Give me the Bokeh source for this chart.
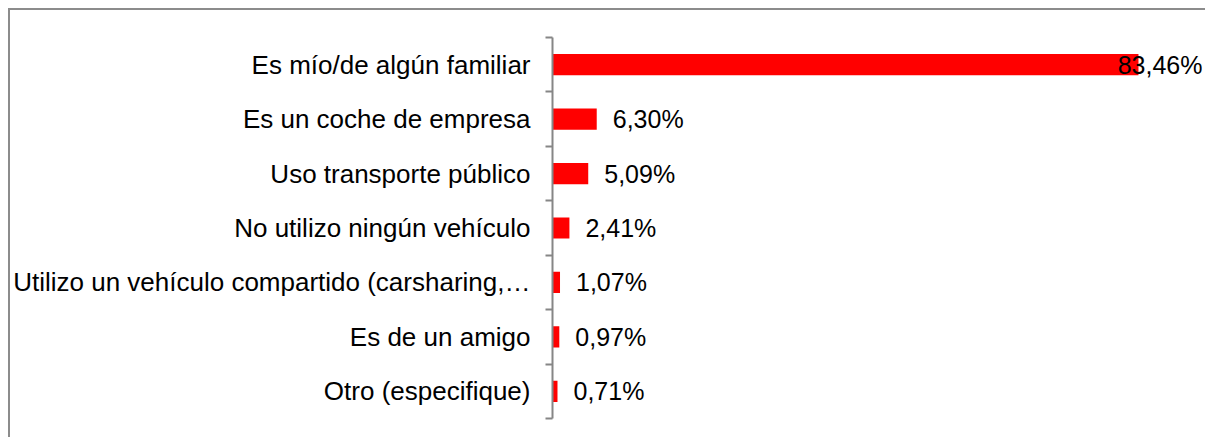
from bokeh.plotting import figure
from bokeh.models import ColumnDataSource, Range1d, FixedTicker
from bokeh.core.properties import value
from bokeh.embed import file_html
from bokeh.resources import INLINE

categories = [
    "Es mío/de algún familiar",
    "Es un coche de empresa",
    "Uso transporte público",
    "No utilizo ningún vehículo",
    "Utilizo un vehículo compartido (carsharing,…",
    "Es de un amigo",
    "Otro (especifique)",
]
values = [83.46, 6.30, 5.09, 2.41, 1.07, 0.97, 0.71]
value_labels = ["83,46%", "6,30%", "5,09%", "2,41%", "1,07%", "0,97%", "0,71%"]

n = len(categories)
XMAX = 92.58
ypos = [n - 1 - i for i in range(n)]
big = [v > 0.8 * XMAX for v in values]
label_x = [XMAX if b else v for v, b in zip(values, big)]
label_align = ["right" if b else "left" for b in big]
label_off = [0 if b else 16 for b in big]

src = ColumnDataSource(dict(y=ypos, v=values, lab=value_labels, lx=label_x,
                            al=label_align, off=label_off))

p = figure(width=1197, height=429, output_backend="svg", toolbar_location=None,
           x_range=Range1d(0, XMAX), y_range=Range1d(-0.5, n - 0.5),
           min_border_top=27, min_border_bottom=21, min_border_right=5,
           min_border_left=542)
p.outline_line_color = None
p.grid.visible = False
p.xaxis.visible = False
p.background_fill_color = "white"
p.border_fill_color = "white"
p.styles = {"margin-left": "8px", "margin-top": "8px",
            "border-left": "2px solid #8c8c8c", "border-top": "2px solid #8c8c8c"}

p.hbar(y="y", right="v", left=0, height=0.39, source=src,
       fill_color="#ff0000", line_color=None)

p.text(x="lx", y="y", text="lab", source=src, text_align="al",
       x_offset="off", text_baseline="middle",
       text_font=value("Liberation Sans"), text_font_size="25px",
       text_color="black")

ax = p.yaxis[0]
ax.ticker = FixedTicker(ticks=[float(y) for y in ypos],
                        minor_ticks=[i - 0.5 for i in range(n + 1)])
ax.major_label_overrides = {float(y): c for y, c in zip(ypos, categories)}
ax.major_tick_line_color = None
ax.major_tick_out = 0
ax.major_tick_in = 0
ax.minor_tick_line_color = "#868686"
ax.minor_tick_line_width = 2
ax.minor_tick_out = 7
ax.minor_tick_in = 0
ax.axis_line_color = "#868686"
ax.axis_line_width = 2
ax.major_label_standoff = 15
ax.major_label_text_font = "Liberation Sans"
ax.major_label_text_font_size = "26px"
ax.major_label_text_color = "black"

open("out.html", "w").write(file_html(p, INLINE))
